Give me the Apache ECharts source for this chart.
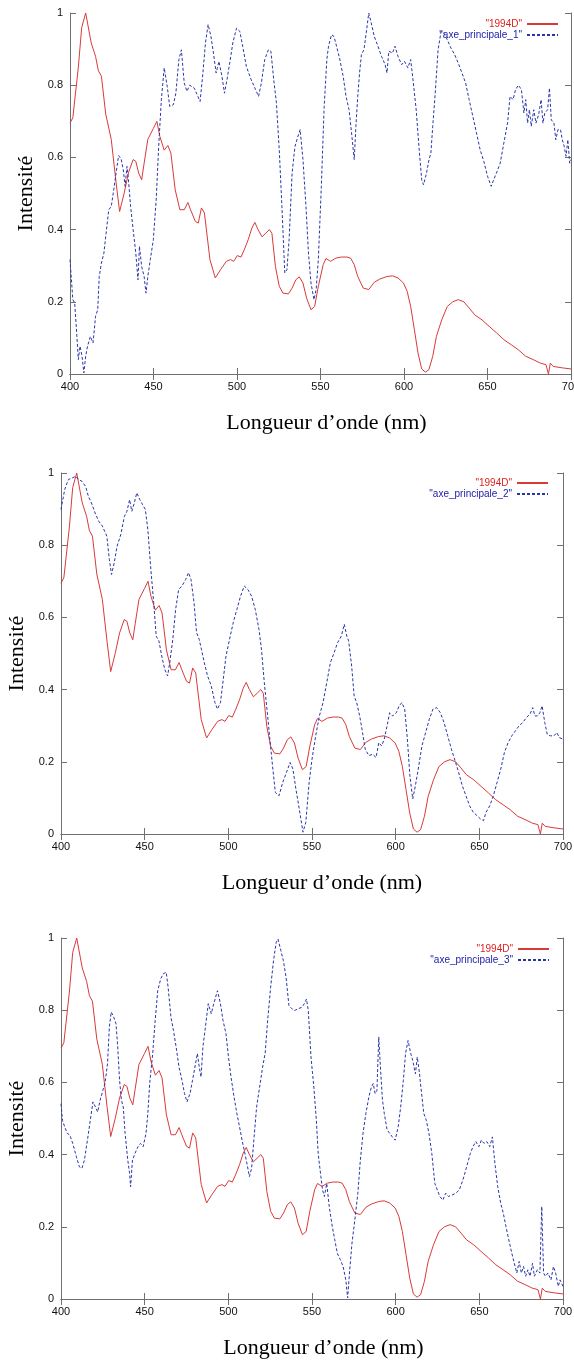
<!DOCTYPE html>
<html>
<head>
<meta charset="utf-8">
<script src="https://cdn.jsdelivr.net/npm/echarts@6/dist/echarts.min.js"></script>
<style>
html,body{margin:0;padding:0;background:#fff;}
#chart{width:574px;height:1361px;}
</style>
</head>
<body>
<div id="chart"></div>
<script>
// ---- data ----
const xTicks = [400, 450, 500, 550, 600, 650, 700];
const yTicks = [0, 0.2, 0.4, 0.6, 0.8, 1];
const xTitle = 'Longueur d’onde (nm)';
const yTitle = 'Intensité';
const redName = '"1994D"';
const blueNames = ['"axe_principale_1"', '"axe_principale_2"', '"axe_principale_3"'];

const wl1994D = [400,401.7,405,407,409.4,410.5,412.7,415.3,417,418.8,421.4,424.7,427.6,429.7,432.4,435,437.8,439.4,441.1,442.9,444.4,446.6,449.9,452,453.8,456.4,458.6,460.4,463,465.8,468.4,470.6,472.2,475,476.8,478.7,480.5,483.8,487,490.3,493.6,496.2,498,500.2,502.4,504.5,506.7,508.9,510.7,512.6,515,517.2,519.4,520.9,523,525.3,527.5,530.8,533,535.2,537.3,539.5,541.7,544.3,546.5,548.7,551.6,553.3,556,559.2,562.5,565.8,568,570.2,572.3,575.6,578.9,582.2,585.5,589.8,593.1,596.4,599.7,601.9,604,606.2,608.4,610.6,612.8,614.9,617.2,619.4,622.6,625.9,629.2,632.5,635.8,639,642.3,646.7,651,655.4,659.8,664.2,668.5,672.9,677.3,681.7,685,686.5,687.6,689.4,694.8,700];
const int1994D = [0.695,0.71,0.85,0.96,1.0,0.995,0.917,0.88,0.84,0.825,0.72,0.65,0.53,0.45,0.50,0.557,0.594,0.589,0.557,0.538,0.584,0.65,0.68,0.70,0.658,0.62,0.633,0.612,0.51,0.455,0.455,0.475,0.455,0.423,0.418,0.46,0.446,0.317,0.266,0.29,0.312,0.317,0.312,0.328,0.324,0.346,0.372,0.404,0.42,0.40,0.38,0.39,0.40,0.39,0.298,0.243,0.224,0.222,0.238,0.261,0.269,0.252,0.21,0.178,0.187,0.243,0.303,0.32,0.312,0.321,0.324,0.324,0.321,0.303,0.27,0.238,0.234,0.254,0.263,0.27,0.272,0.266,0.252,0.229,0.187,0.123,0.058,0.014,0.005,0.012,0.049,0.104,0.15,0.187,0.2,0.206,0.2,0.183,0.164,0.15,0.132,0.114,0.095,0.081,0.067,0.049,0.04,0.03,0.026,0,0.03,0.021,0.017,0.014];

const axe1 = [[400,0.317],[401.7,0.206],[402.8,0.197],[404,0.114],[405,0.04],[406,0.077],[407.2,0.049],[408.3,0.003],[409.4,0.05],[410.5,0.077],[412.2,0.104],[413.8,0.086],[415.3,0.16],[416.6,0.178],[417.5,0.27],[418.8,0.307],[420.3,0.335],[421.4,0.381],[423.2,0.455],[424.7,0.464],[426.2,0.51],[427.6,0.557],[429.1,0.605],[430.6,0.596],[431.9,0.566],[433,0.52],[434.1,0.575],[435,0.538],[436.3,0.464],[437.8,0.40],[439.4,0.335],[440.7,0.261],[441.6,0.354],[442.9,0.298],[444.4,0.27],[445.5,0.224],[446.6,0.27],[448.1,0.317],[449.9,0.372],[451.6,0.482],[453.1,0.63],[454.7,0.76],[456.4,0.848],[458.2,0.797],[459.7,0.741],[461.9,0.746],[463.4,0.778],[465.2,0.871],[466.7,0.898],[468.4,0.806],[470,0.783],[471.7,0.80],[474.4,0.792],[476.1,0.774],[477.9,0.755],[479.6,0.834],[481.1,0.917],[482.7,0.968],[484.4,0.935],[485.9,0.889],[487.5,0.834],[489.2,0.866],[491,0.824],[492.5,0.778],[494,0.815],[495.8,0.866],[497.5,0.917],[499.7,0.958],[501.7,0.949],[503.4,0.908],[505.6,0.852],[508.5,0.815],[511.1,0.788],[512.9,0.769],[514.6,0.806],[516.6,0.871],[518.8,0.898],[520.3,0.894],[522,0.815],[523.6,0.751],[525.3,0.621],[526.9,0.464],[528.6,0.28],[529.9,0.289],[531.2,0.372],[533,0.557],[534.7,0.63],[536.2,0.654],[537.8,0.677],[539.5,0.594],[541.3,0.464],[542.8,0.335],[544.3,0.252],[546.1,0.206],[547.4,0.234],[548.7,0.317],[550.5,0.52],[552.2,0.741],[553.8,0.871],[554.8,0.908],[556.6,0.94],[558.1,0.935],[559.6,0.908],[561.4,0.875],[563.6,0.824],[565.3,0.769],[567.1,0.732],[568.6,0.668],[570.2,0.594],[571.2,0.686],[572.3,0.769],[573.4,0.834],[574.5,0.885],[576,0.898],[577.4,0.945],[578.9,1.0],[580.4,0.972],[582.2,0.935],[584.4,0.908],[586.5,0.88],[588.7,0.857],[589.8,0.834],[590.9,0.894],[593.1,0.889],[594.6,0.908],[596.4,0.88],[598.6,0.857],[600.3,0.866],[602.3,0.848],[604,0.871],[605.6,0.806],[607.3,0.732],[609.1,0.621],[610.6,0.538],[611.7,0.524],[613.5,0.557],[615,0.594],[616.1,0.612],[617.2,0.686],[618.7,0.778],[620.4,0.898],[622.2,0.949],[623.7,0.945],[625.9,0.926],[628.1,0.903],[630.3,0.885],[632.5,0.861],[634.7,0.834],[636.9,0.806],[639,0.76],[641.2,0.714],[643.4,0.668],[645.6,0.621],[647.8,0.589],[650,0.548],[652.2,0.52],[653.7,0.538],[655.4,0.557],[657.6,0.584],[659.8,0.64],[662,0.695],[663.5,0.769],[665.3,0.76],[666.8,0.788],[668.5,0.80],[670.3,0.788],[671.8,0.723],[672.9,0.76],[674,0.695],[675.1,0.732],[676.2,0.686],[677.7,0.732],[679,0.695],[680.6,0.718],[682.1,0.76],[683.2,0.695],[684.3,0.723],[686,0.732],[687.1,0.792],[688.2,0.704],[689.8,0.695],[690.9,0.649],[692.2,0.677],[693.7,0.677],[694.8,0.649],[695.9,0.631],[697,0.603],[698.1,0.649],[699.2,0.584],[700,0.594]];

const axe2 = [[400,0.899],[402.2,0.954],[404.4,0.982],[406.6,0.986],[408.8,0.991],[410.5,0.982],[412.5,0.977],[414.7,0.963],[416.4,0.935],[418.2,0.917],[420.4,0.889],[422.6,0.866],[424.7,0.853],[427.4,0.825],[428.9,0.76],[430.2,0.719],[431.8,0.751],[433.5,0.797],[435.7,0.829],[437.9,0.88],[439.4,0.894],[441,0.926],[442.3,0.894],[443.8,0.917],[445.3,0.945],[447.1,0.926],[448.8,0.912],[450.4,0.899],[451.9,0.843],[453.7,0.733],[455.4,0.641],[456.9,0.548],[458.5,0.535],[460.2,0.493],[462,0.456],[463.7,0.438],[465,0.475],[466.8,0.539],[468.5,0.622],[470.3,0.677],[472.3,0.687],[474.5,0.705],[476.2,0.724],[477.7,0.705],[479.5,0.641],[481,0.558],[482.6,0.539],[483.9,0.512],[485.6,0.475],[487.6,0.438],[489.8,0.41],[492,0.364],[493.5,0.346],[495.3,0.364],[497,0.429],[498.6,0.493],[500.7,0.539],[502.9,0.585],[505.1,0.622],[507.3,0.659],[509.5,0.687],[511.7,0.677],[513.9,0.659],[516.1,0.622],[518.3,0.567],[519.8,0.512],[521.5,0.419],[523.3,0.336],[524.8,0.263],[526.4,0.189],[528.1,0.115],[530.3,0.106],[532.5,0.143],[534.7,0.17],[536.9,0.198],[538.6,0.18],[540.4,0.124],[542.4,0.069],[544.6,0.005],[546.3,0.032],[548.3,0.143],[550,0.207],[552.2,0.272],[554.4,0.327],[556.6,0.364],[558.8,0.419],[561,0.475],[563.2,0.502],[565.3,0.53],[567.5,0.548],[569.3,0.581],[570.8,0.548],[571.9,0.535],[573.7,0.465],[575.2,0.382],[576.7,0.364],[578.5,0.327],[580.2,0.281],[581.8,0.235],[584,0.217],[586.2,0.221],[588.3,0.212],[589.9,0.253],[591.6,0.244],[593.2,0.263],[594.9,0.30],[596.4,0.336],[598.2,0.327],[600.4,0.336],[602.1,0.355],[603.7,0.364],[605.4,0.346],[607,0.263],[608.5,0.161],[610.2,0.097],[611.8,0.134],[613.5,0.18],[615.7,0.244],[617.9,0.281],[620.1,0.318],[622.3,0.346],[624.5,0.35],[626.7,0.336],[628.9,0.309],[631.1,0.272],[633.3,0.235],[635.5,0.203],[637.6,0.171],[639.8,0.134],[642,0.106],[644.2,0.078],[646.4,0.06],[648.6,0.051],[650.8,0.041],[652.5,0.037],[654,0.06],[656.2,0.078],[658.4,0.106],[660.6,0.143],[662.8,0.18],[665,0.226],[667.2,0.253],[669.4,0.272],[671.6,0.286],[673.8,0.30],[676,0.309],[678.2,0.323],[680.3,0.332],[681.9,0.35],[683.2,0.327],[684.7,0.327],[686.2,0.336],[687.5,0.355],[689.1,0.309],[690.6,0.276],[692.4,0.272],[694.6,0.272],[696.3,0.281],[697.8,0.267],[700,0.263]];

const axe3 = [[400,0.541],[400.9,0.495],[402.2,0.477],[403.7,0.459],[405.3,0.454],[407,0.431],[409.2,0.394],[411,0.366],[412.5,0.362],[414,0.385],[415.8,0.44],[417.5,0.495],[419.1,0.546],[420.6,0.532],[421.9,0.518],[423.4,0.551],[425,0.578],[426.3,0.597],[427.8,0.652],[428.9,0.753],[430,0.795],[431.5,0.781],[432.9,0.762],[433.9,0.698],[435,0.606],[436.1,0.551],[437.2,0.532],[438.3,0.459],[439.9,0.385],[441,0.348],[441.6,0.311],[442.7,0.385],[444.2,0.403],[446,0.422],[447.5,0.431],[449.1,0.422],[450.8,0.459],[451.9,0.514],[453,0.597],[454.8,0.68],[456.3,0.772],[457.8,0.854],[459.6,0.887],[461.1,0.901],[462.9,0.905],[464,0.864],[465.7,0.781],[467.2,0.744],[468.8,0.698],[470.5,0.643],[472.3,0.606],[473.8,0.569],[475.3,0.546],[477.1,0.569],[478.6,0.606],[480.4,0.652],[481.5,0.68],[482.6,0.643],[483.7,0.615],[484.8,0.698],[486.3,0.753],[488,0.818],[489.8,0.79],[491.3,0.818],[493.5,0.854],[495.3,0.818],[496.8,0.772],[498.6,0.735],[500.1,0.67],[501.6,0.615],[503.4,0.56],[505.1,0.514],[506.7,0.477],[508.2,0.44],[509.9,0.403],[511.5,0.366],[512.6,0.339],[513.9,0.362],[515.4,0.449],[516.9,0.532],[518.7,0.587],[520.5,0.643],[522,0.68],[523.5,0.772],[525.3,0.864],[527,0.937],[528.6,0.988],[529.7,0.997],[531.4,0.965],[532.9,0.937],[534.5,0.891],[536.2,0.813],[538,0.804],[539.5,0.799],[541.7,0.804],[543.9,0.808],[545.4,0.818],[546.7,0.831],[547.8,0.799],[549.4,0.67],[551.1,0.587],[552.6,0.495],[553.7,0.403],[555.3,0.339],[556.3,0.302],[557.4,0.284],[558.8,0.32],[560.3,0.256],[562.1,0.201],[563.6,0.164],[565.1,0.127],[566.9,0.109],[568.6,0.09],[570.2,0.053],[571.3,0.003],[572.4,0.072],[573.9,0.155],[575.6,0.219],[577.4,0.293],[578.9,0.385],[580.5,0.459],[582.2,0.514],[584,0.56],[585.5,0.587],[586.6,0.597],[587.7,0.569],[588.8,0.578],[589.9,0.726],[591,0.634],[592.1,0.551],[593.2,0.514],[594.9,0.468],[596.4,0.459],[598,0.449],[599.7,0.44],[601.5,0.477],[603,0.532],[604.6,0.606],[605.9,0.68],[607.4,0.716],[609,0.68],[610.2,0.661],[611.8,0.624],[612.9,0.67],[614,0.634],[615.5,0.569],[616.8,0.514],[618.3,0.495],[619.9,0.459],[621.6,0.403],[623.4,0.32],[624.9,0.302],[626.4,0.284],[628.2,0.274],[629.9,0.293],[631.5,0.284],[633.7,0.288],[635.9,0.293],[638,0.302],[640.2,0.33],[642.4,0.366],[644.6,0.403],[646.2,0.422],[647.9,0.436],[649.7,0.422],[651.2,0.44],[652.8,0.431],[654.5,0.436],[656.2,0.422],[657.8,0.449],[659.3,0.376],[661,0.311],[662.8,0.265],[664.3,0.238],[665.9,0.201],[667.6,0.164],[669.4,0.127],[670.9,0.099],[672.4,0.072],[673.8,0.104],[675.1,0.072],[676.4,0.09],[677.7,0.063],[679,0.081],[680.3,0.063],[681.8,0.099],[682.9,0.063],[684.7,0.081],[686.2,0.072],[687.3,0.256],[688.4,0.072],[689.5,0.063],[691,0.072],[692.8,0.053],[694.3,0.09],[695.6,0.072],[697.2,0.035],[698.2,0.053],[700,0.035]];

const blueData = [axe1, axe2, axe3];

// ---- layout ----
const grids = [
  {left: 70, top: 13, width: 501, height: 361},
  {left: 61, top: 473, width: 502, height: 361},
  {left: 61, top: 938, width: 502, height: 361}
];
const legendPos = [
  {right: 10, top: 14},
  {right: 20, top: 473},
  {right: 19, top: 939}
];
const xTitleShift = [12, 20, 23];

const RED = '#d83a3a';
const BLUE = '#2a35a8';
const FRAME = '#707070';
const redPairs = wl1994D.map((w, i) => [w, int1994D[i]]);

const option = {
  animation: false,
  backgroundColor: '#fff',
  grid: grids.map(g => Object.assign({containLabel: false, show: false, outerBoundsMode: 'none'}, g)),
  legend: [], xAxis: [], yAxis: [], series: []
};

const tickLabel = {fontFamily: 'Liberation Sans', fontSize: 11, color: '#111'};

grids.forEach((g, i) => {
  const xBase = {type: 'value', gridIndex: i, min: 400, max: 700, interval: 50,
    splitLine: {show: false},
    axisLine: {show: true, lineStyle: {color: FRAME, width: 1}},
    axisTick: {show: true, inside: true, length: 6, lineStyle: {color: FRAME}}};
  const yBase = {type: 'value', gridIndex: i, min: 0, max: 1, interval: 0.2,
    splitLine: {show: false},
    axisLine: {show: true, lineStyle: {color: FRAME, width: 1}},
    axisTick: {show: true, inside: true, length: 6, lineStyle: {color: FRAME}}};
  option.xAxis.push(Object.assign({}, xBase, {position: 'bottom',
    axisLabel: Object.assign({margin: 7, hideOverlap: false}, tickLabel),
    name: xTitle, nameLocation: 'middle', nameGap: 38,
    nameTextStyle: {fontFamily: 'Liberation Serif', fontSize: 22, color: '#000',
      padding: [0, 0, 0, xTitleShift[i]]}}));
  option.xAxis.push(Object.assign({}, xBase, {position: 'top', axisLabel: {show: false}}));
  option.yAxis.push(Object.assign({}, yBase, {position: 'left',
    axisLabel: Object.assign({margin: 7}, tickLabel),
    name: yTitle, nameLocation: 'middle', nameGap: 32, nameRotate: 90,
    nameTextStyle: {fontFamily: 'Liberation Serif', fontSize: 22, color: '#000'}}));
  option.yAxis.push(Object.assign({}, yBase, {position: 'right', axisLabel: {show: false}}));

  option.series.push({
    type: 'line', name: redName, xAxisIndex: 2 * i, yAxisIndex: 2 * i,
    data: redPairs, showSymbol: false, symbol: 'none',
    lineStyle: {color: RED, width: 1}, itemStyle: {color: RED}
  });
  option.series.push({
    type: 'line', name: blueNames[i], xAxisIndex: 2 * i, yAxisIndex: 2 * i,
    data: blueData[i], showSymbol: false, symbol: 'none',
    lineStyle: {color: BLUE, width: 1, type: [3, 2]}, itemStyle: {color: BLUE}
  });

  option.legend.push(Object.assign({
    orient: 'vertical', align: 'right', itemWidth: 31, itemHeight: 10, itemGap: 1,
    padding: 5, selectedMode: false,
    itemStyle: {opacity: 0, borderWidth: 0},
    textStyle: {fontFamily: 'Liberation Sans', fontSize: 10, lineHeight: 10},
    data: [
      {name: redName, textStyle: {color: '#e02020'}},
      {name: blueNames[i], textStyle: {color: '#1a1aa8'}}
    ]
  }, legendPos[i]));
});

const chart = echarts.init(document.getElementById('chart'), null, {renderer: 'canvas'});
chart.setOption(option);
</script>
</body>
</html>
